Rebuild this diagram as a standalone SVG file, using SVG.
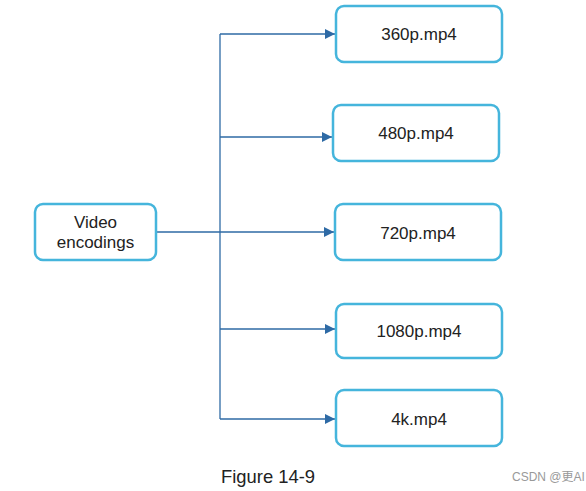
<svg xmlns="http://www.w3.org/2000/svg" width="586" height="491" viewBox="0 0 586 491">
<style>
.box{fill:#fff;stroke:#45b5dc;stroke-width:2.5}
.lbl{font-family:"Liberation Sans",Arial,sans-serif;font-size:17px;fill:#222;text-anchor:middle}
.ln{fill:none;stroke:#2e6aa5;stroke-width:1.3}
</style>
<defs>
<marker id="ah" markerWidth="10" markerHeight="10" refX="10" refY="5" orient="auto" markerUnits="userSpaceOnUse">
<path d="M0,0 L10,5 L0,10 Z" fill="#2e6aa5"/>
</marker>
</defs>
<rect width="586" height="491" fill="#fff"/>
<g id="connectors">
<path class="ln" d="M220,34 L220,419"/>
<path class="ln" d="M156,232 L334,232" marker-end="url(#ah)"/>
<path class="ln" d="M220,34 L335,34" marker-end="url(#ah)"/>
<path class="ln" d="M220,137 L332,137" marker-end="url(#ah)"/>
<path class="ln" d="M220,329 L335,329" marker-end="url(#ah)"/>
<path class="ln" d="M220,419 L335,419" marker-end="url(#ah)"/>
</g>
<g id="video-encodings">
<rect class="box" x="35" y="204" width="121" height="56" rx="8"/>
<text class="lbl" x="95.5" y="228">Video</text>
<text class="lbl" x="95.5" y="248">encodings</text>
</g>
<g id="n360">
<rect class="box" x="336" y="6" width="166" height="56" rx="8"/>
<text class="lbl" x="419" y="40">360p.mp4</text>
</g>
<g id="n480">
<rect class="box" x="333" y="105" width="166" height="56" rx="8"/>
<text class="lbl" x="416" y="139">480p.mp4</text>
</g>
<g id="n720">
<rect class="box" x="335" y="204" width="166" height="56" rx="8"/>
<text class="lbl" x="418" y="239">720p.mp4</text>
</g>
<g id="n1080">
<rect class="box" x="336" y="304" width="166" height="54" rx="8"/>
<text class="lbl" x="419" y="337">1080p.mp4</text>
</g>
<g id="n4k">
<rect class="box" x="336" y="390" width="166" height="56" rx="8"/>
<text class="lbl" x="419" y="425">4k.mp4</text>
</g>
<text x="221" y="483" font-family="'Liberation Sans',Arial,sans-serif" font-size="18.4" fill="#222">Figure 14-9</text>
<text x="512" y="481" font-family="'Liberation Sans','Noto Sans CJK SC',sans-serif" font-size="12" fill="#999">CSDN @更AI</text>
</svg>
